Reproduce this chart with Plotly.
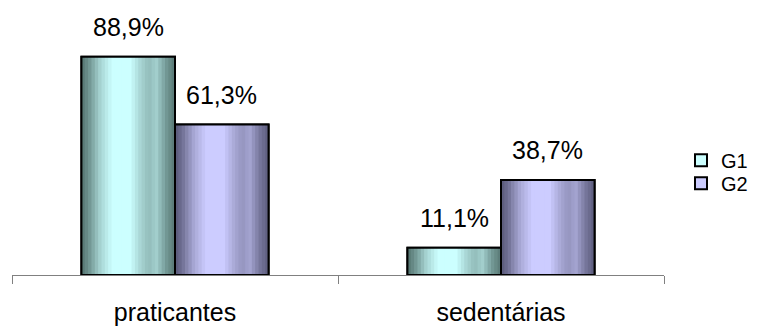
import plotly.graph_objects as go

# ---- data -------------------------------------------------------------
categories = ["praticantes", "sedentárias"]
series_names = ["G1", "G2"]
g1_values = [88.9, 11.1]
g2_values = [61.3, 38.7]

# ---- styling ----------------------------------------------------------
FONT = "Liberation Sans, Arial, sans-serif"
W, H = 758, 331
MARGIN = dict(l=12, r=93, t=5, b=51)
PLOT_W = W - MARGIN["l"] - MARGIN["r"]
CAT_PX = PLOT_W / len(categories)   # pixels per category unit
BAR_W = 0.287          # bar width in category units
N_SLICES = 28          # vertical strips used to shade each bar

# shading across a bar: (fraction of width, 0 = edge tone .. 1 = highlight)
SHADE = [(0.0, 0.0), (0.08, 0.22), (0.2, 0.68), (0.33, 1.0), (0.52, 1.0),
         (0.63, 0.7), (0.72, 0.52), (0.8, 0.66), (0.9, 0.28), (1.0, 0.03)]

STYLE = {
    "G1": {"edge": (84, 116, 112), "light": (204, 255, 255), "offset": -BAR_W},
    "G2": {"edge": (88, 88, 120), "light": (204, 204, 255), "offset": 0.0},
}
LEGEND_POS = {"G1": ("legend", 0.425), "G2": ("legend2", 0.34)}


def shade_level(p):
    for (p0, v0), (p1, v1) in zip(SHADE[:-1], SHADE[1:]):
        if p0 <= p <= p1:
            return v0 + (v1 - v0) * (p - p0) / (p1 - p0)
    return SHADE[-1][1]


def mix(c0, c1, t):
    r, g, b = (round(a + (b_ - a) * t) for a, b_ in zip(c0, c1))
    return f"rgb({r},{g},{b})"


fig = go.Figure()
annotations = []

for name, values in zip(series_names, [g1_values, g2_values]):
    st = STYLE[name]
    legend_id, _ = LEGEND_POS[name]
    light = "rgb({},{},{})".format(*st["light"])

    # base bar: carries the legend entry
    fig.add_trace(go.Bar(
        x=categories, y=values, name=name, width=BAR_W, offset=st["offset"],
        marker=dict(color=light, line=dict(color="black", width=2)),
        legend=legend_id, showlegend=True, hoverinfo="skip",
    ))

    # shaded strips across each bar
    step = BAR_W / N_SLICES
    for j in range(N_SLICES):
        p = (j + 0.5) / N_SLICES
        fig.add_trace(go.Bar(
            x=categories, y=values, width=min(step * 1.25, BAR_W - j * step),
            offset=st["offset"] + j * step,
            marker=dict(color=mix(st["edge"], st["light"], shade_level(p)),
                        line=dict(width=0)),
            showlegend=False, hoverinfo="skip", legend=legend_id,
        ))

    # black outline on top
    fig.add_trace(go.Bar(
        x=categories, y=values, width=BAR_W, offset=st["offset"],
        marker=dict(color="rgba(0,0,0,0)", line=dict(color="black", width=2)),
        showlegend=False, hovertemplate=name + ": %{y:.1f}%<extra></extra>",
        legend=legend_id,
    ))

    # value labels above bars
    for cat, v in zip(categories, values):
        annotations.append(dict(
            x=cat, y=v, xref="x", yref="y",
            text=f"{v:.1f}".replace(".", ",") + "%",
            showarrow=False, yanchor="bottom", yshift=14,
            xshift=(st["offset"] + BAR_W / 2) * CAT_PX,
            font=dict(family=FONT, size=25, color="black"),
        ))

legend_common = dict(
    xanchor="left", x=(682 - MARGIN["l"]) / PLOT_W, yanchor="middle",
    bgcolor="rgba(0,0,0,0)", borderwidth=0,
    font=dict(family=FONT, size=20, color="black"),
)

fig.update_layout(
    width=W, height=H, margin=MARGIN,
    paper_bgcolor="white", plot_bgcolor="white",
    barmode="overlay", separators=",.",
    font=dict(family=FONT, color="black"),
    legend=dict(**legend_common, y=LEGEND_POS["G1"][1]),
    legend2=dict(**legend_common, y=LEGEND_POS["G2"][1]),
    annotations=annotations,
    xaxis=dict(
        type="category", range=[-0.5, 1.5],
        showline=True, linecolor="#808080", linewidth=1,
        ticks="outside", tickson="boundaries", ticklen=8,
        tickcolor="#808080", tickwidth=1,
        showgrid=False, zeroline=False, ticklabelstandoff=15,
        tickfont=dict(family=FONT, size=25, color="black"),
    ),
    yaxis=dict(range=[0, 110], visible=False, showgrid=False, zeroline=False),
)

fig.write_html("out.html")
